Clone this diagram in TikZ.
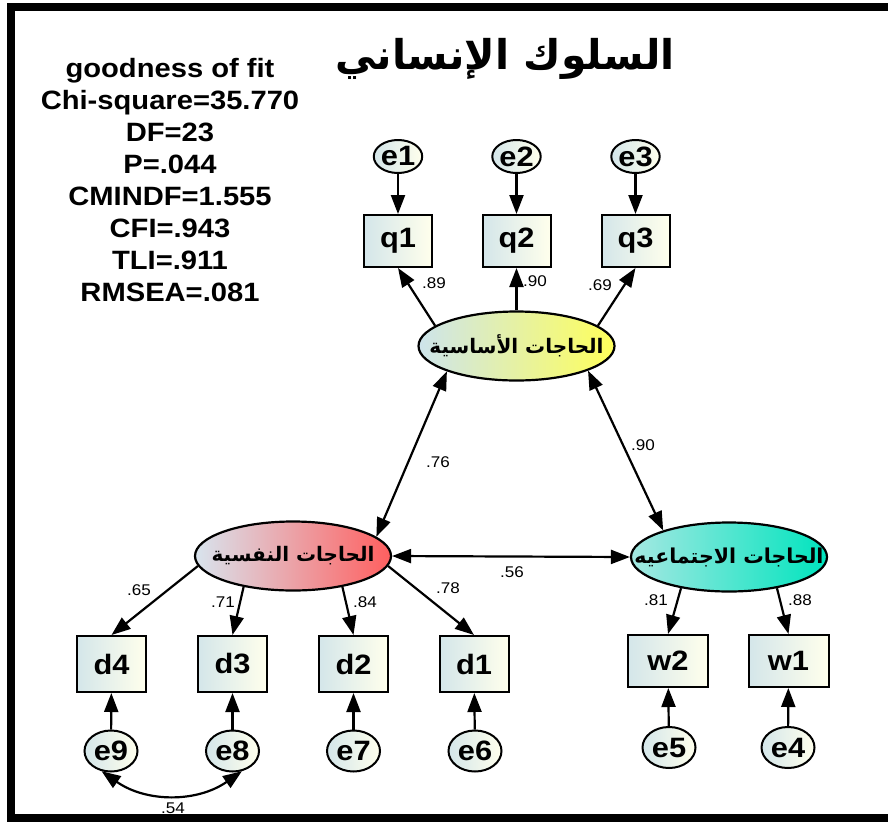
\documentclass[tikz,border=0pt]{standalone}
\usepackage{fontspec}
\setmainfont{Liberation Sans}[FakeStretch=1.1]
\newfontfamily\arabicfont[Script=Arabic]{DejaVu Sans}
\TeXXeTstate=1
\usetikzlibrary{arrows.meta,shapes.geometric}
\definecolor{boxL}{RGB}{212,230,234}
\definecolor{boxR}{RGB}{255,255,236}
\definecolor{yelL}{RGB}{205,228,236}
\definecolor{yelR}{RGB}{255,255,90}
\definecolor{redL}{RGB}{216,228,238}
\definecolor{redR}{RGB}{255,95,95}
\definecolor{tealL}{RGB}{165,232,226}
\definecolor{tealR}{RGB}{0,228,190}
\begin{document}
\begin{tikzpicture}[x=1pt,y=-1pt,
  con/.style={line width=2.2pt,-{Triangle[length=19pt,width=14pt]}},
  cov/.style={line width=2.2pt,{Triangle[length=19pt,width=14pt]}-{Triangle[length=19pt,width=14pt]}},
  obs/.style={draw,line width=2pt,rectangle,minimum width=68pt,minimum height=52pt,inner sep=0pt,left color=boxL,right color=boxR,font=\fontsize{28}{30}\selectfont\bfseries},
  err/.style={draw,line width=2pt,ellipse,minimum width=47pt,minimum height=33pt,inner sep=0pt,left color=boxL,right color=boxR,font=\fontsize{28}{30}\selectfont\bfseries},
  lat/.style={draw,line width=2.2pt,ellipse,minimum width=196pt,minimum height=69pt,inner sep=0pt},
  lattext/.style={font=\arabicfont\bfseries\fontsize{20}{22}\selectfont,inner sep=0pt},
  coef/.style={font=\fontsize{15.5}{16}\selectfont,inner sep=0pt},
  stat/.style={font=\fontsize{26.5}{28}\selectfont\bfseries,anchor=base,inner sep=0pt}
]
\useasboundingbox (0,0) rectangle (888,822);
% frame
\draw[line width=8pt,line join=miter] (888,7) -- (11,7) -- (11,818) -- (888,818);

% title
\node[font=\arabicfont\bfseries\fontsize{41}{44}\selectfont,inner sep=0pt] (title) at (505,59) {\beginR السلوك الإنساني\endR};

% fit statistics
\node[stat] (s1) at (170,77) {goodness of fit};
\node[stat] (s2) at (170,109) {Chi-square=35.770};
\node[stat] (s3) at (170,141) {DF=23};
\node[stat] (s4) at (170,173) {P=.044};
\node[stat] (s5) at (170,205) {CMINDF=1.555};
\node[stat] (s6) at (170,237) {CFI=.943};
\node[stat] (s7) at (170,269) {TLI=.911};
\node[stat] (s8) at (170,301) {RMSEA=.081};

% latent variables
\node[lat,left color=yelL,right color=yelR] (F1) at (516.5,346) {};
\node[lattext] (F1t) at (F1) {\beginR الحاجات الأساسية\endR};
\node[lat,left color=redL,right color=redR] (F2) at (293,556) {};
\node[lattext] (F2t) at (F2) {\beginR الحاجات النفسية\endR};
\node[lat,left color=tealL,right color=tealR] (F3) at (729,557) {};
\node[lattext,font=\arabicfont\bfseries\fontsize{20.5}{22}\selectfont] (F3t) at (F3) {\beginR الحاجات الاجتماعيه\endR};

% top indicators
\node[obs] (q1) at (398,241) {q1};
\node[obs] (q2) at (516.5,241) {q2};
\node[obs] (q3) at (635.5,241) {q3};
\node[err] (e1) at (398,156.5) {e1};
\node[err] (e2) at (516.5,156.5) {e2};
\node[err] (e3) at (635.5,156.5) {e3};

% bottom-left indicators
\node[obs,minimum width=69pt,minimum height=56pt] (d4) at (111.5,664) {d4};
\node[obs,minimum width=69pt,minimum height=56pt] (d3) at (232.5,664) {d3};
\node[obs,minimum width=69pt,minimum height=56pt] (d2) at (353.5,664) {d2};
\node[obs,minimum width=69pt,minimum height=56pt] (d1) at (474,664) {d1};
\node[err,minimum width=53pt,minimum height=41pt] (e9) at (111,751) {e9};
\node[err,minimum width=53pt,minimum height=41pt] (e8) at (232.5,751) {e8};
\node[err,minimum width=53pt,minimum height=41pt] (e7) at (353.5,751) {e7};
\node[err,minimum width=53pt,minimum height=41pt] (e6) at (475,751) {e6};

% bottom-right indicators
\node[obs,minimum width=80pt,minimum height=52pt] (w2) at (668,661) {w2};
\node[obs,minimum width=80pt,minimum height=52pt] (w1) at (788.5,661) {w1};
\node[err,minimum width=53pt,minimum height=41pt] (e5) at (669,747.5) {e5};
\node[err,minimum width=53pt,minimum height=41pt] (e4) at (788,747.5) {e4};

% error arrows
\draw[con] (e1) -- (q1);
\draw[con] (e2) -- (q2);
\draw[con] (e3) -- (q3);
\draw[con] (e9) -- (d4);
\draw[con] (e8) -- (d3);
\draw[con] (e7) -- (d2);
\draw[con] (e6) -- (d1);
\draw[con] (e5) -- (w2);
\draw[con] (e4) -- (w1);

% loadings
\draw[con] (F1.166) -- (q1.south);
\draw[con] (F1.north) -- (q2.south);
\draw[con] (F1.14) -- (q3.south);
\draw[con] (F2.186) -- (d4.north);
\draw[con] (F2.212) -- (d3.north);
\draw[con] (F2.328) -- (d2.north);
\draw[con] (F2.354) -- (d1.north);
\draw[con] (F3.213) -- (w2.north);
\draw[con] (F3.327) -- (w1.north);

% covariances
\draw[cov] (F1.200) -- (F2.13);
\draw[cov] (F1.341) -- (F3.158);
\draw[cov] (F2.east) -- (F3.west);
\draw[cov] (e9.245) to[bend right=35] (e8.295);

% coefficients
\node[coef] (c1) at (434,283) {.89};
\node[coef] (c2) at (535,281) {.90};
\node[coef] (c3) at (600,285) {.69};
\node[coef] (c4) at (438,462) {.76};
\node[coef] (c5) at (643,445) {.90};
\node[coef] (c6) at (512,572) {.56};
\node[coef] (c7) at (448,588) {.78};
\node[coef] (c8) at (365,602) {.84};
\node[coef] (c9) at (223,602) {.71};
\node[coef] (c10) at (139,590) {.65};
\node[coef] (c11) at (656,600) {.81};
\node[coef] (c12) at (800,600) {.88};
\node[coef] (c13) at (173,808) {.54};
\end{tikzpicture}
\end{document}
